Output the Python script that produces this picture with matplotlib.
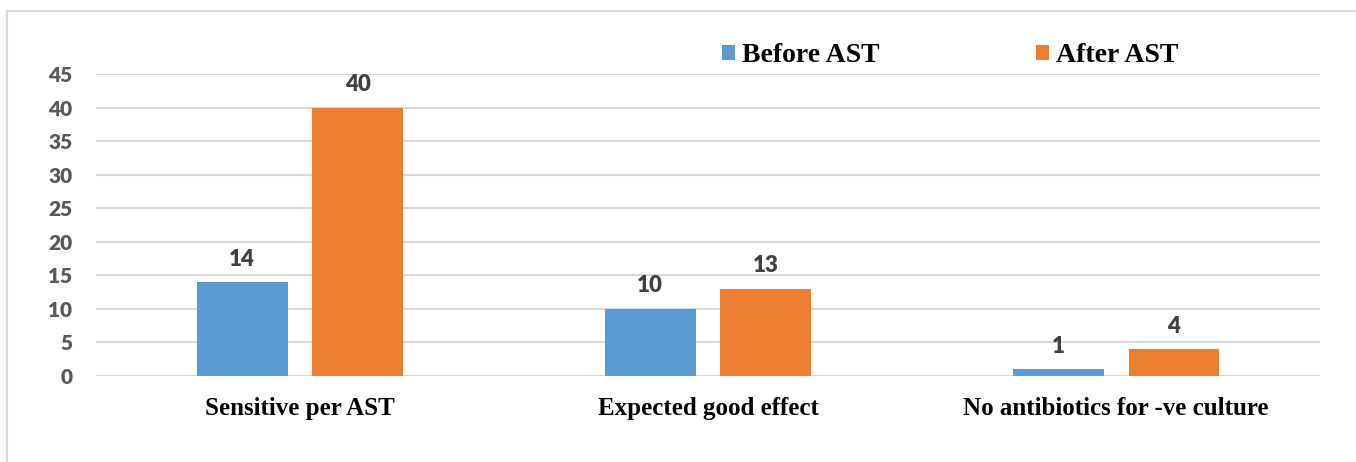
import matplotlib.pyplot as plt
import matplotlib.patches as mpatches
import numpy as np

categories = ["Sensitive per AST", "Expected good effect", "No antibiotics for -ve culture"]
before_ast = [14, 10, 1]
after_ast = [40, 13, 4]
y_ticks = [0, 5, 10, 15, 20, 25, 30, 35, 40, 45]

blue = "#5B9BD5"
orange = "#ED7D31"

fig = plt.figure(figsize=(13.56, 4.62), dpi=100)
ax = fig.add_axes([0.0708, 0.1861, 0.9027, 0.6537])

x = np.arange(len(categories))
w = 0.223
off = 0.142
b1 = ax.bar(x - off, before_ast, w, color=blue, label="Before AST")
b2 = ax.bar(x + off, after_ast, w, color=orange, label="After AST")

for bars in (b1, b2):
    for rect in bars:
        h = rect.get_height()
        ax.annotate(str(int(h)), (rect.get_x() + rect.get_width() / 2, h),
                    xytext=(0, 9), textcoords="offset points", ha="center", va="bottom",
                    fontsize=16, fontweight="heavy", color="#404040", family="Lato")

ax.set_xlim(-0.5, 2.5)
ax.set_ylim(0, 45)
ax.set_yticks(y_ticks)
ax.set_xticks(x)
ax.set_xticklabels(categories, family="Liberation Serif", fontweight="bold", fontsize=18, color="black")
for lbl in ax.get_yticklabels():
    lbl.set_family("Lato")
    lbl.set_fontweight("heavy")
    lbl.set_fontsize(15)
    lbl.set_color("#595959")
ax.tick_params(axis="both", length=0)
ax.tick_params(axis="x", pad=15)
ax.tick_params(axis="y", pad=17)
ax.grid(axis="y", color="#d9d9d9", linewidth=1.5)
ax.set_axisbelow(True)
for s in ax.spines.values():
    s.set_visible(False)

leg = fig.legend(handles=[b1, b2], loc="center", bbox_to_anchor=(0.7006, 0.879), ncol=2,
                 frameon=False, handlelength=0.47, handleheight=0.47, handletextpad=0.25,
                 columnspacing=5.65, prop={"family": "Liberation Serif", "weight": "bold", "size": 20})

border = mpatches.Rectangle((7 / 1356, -0.1), 1.2, 1.1 - 11 / 462, transform=fig.transFigure,
                            fill=False, edgecolor="#d9d9d9", linewidth=1.5)
fig.patches.append(border)

fig.savefig("out.png", dpi=100)
